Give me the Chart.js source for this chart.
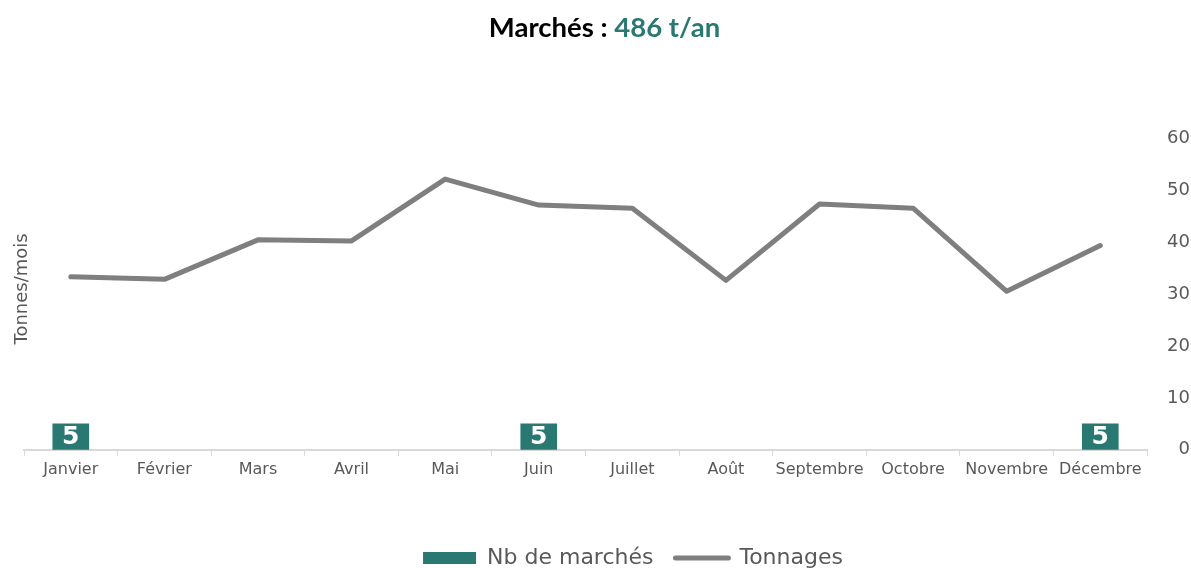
<!DOCTYPE html>
<html>
<head>
<meta charset="utf-8">
<script src="https://cdn.jsdelivr.net/npm/chart.js@4"></script>
<style>
  html, body { margin: 0; padding: 0; background: #fff; }
  #wrap { position: relative; width: 1191px; height: 568px; overflow: hidden; }
  #title { position: absolute; top: 10px; left: 9px; width: 1191px; text-align: center;
           font-family: Lato, "Liberation Sans", sans-serif; font-weight: bold; font-size: 27.5px; color: #000; }
  #title span { color: #2a7872; }
</style>
</head>
<body>
<div id="wrap">
  <div id="title">Marchés : <span>486 t/an</span></div>
  <canvas id="myChart-1" width="1191" height="568"></canvas>
</div>
<script>
const months = ['Janvier', 'Février', 'Mars', 'Avril', 'Mai', 'Juin', 'Juillet', 'Août', 'Septembre', 'Octobre', 'Novembre', 'Décembre'];
const nbMarches = [5, null, null, null, null, 5, null, null, null, null, null, 5];
const tonnages = [33.3, 32.8, 40.4, 40.2, 52.1, 47.1, 46.5, 32.6, 47.3, 46.5, 30.5, 39.3];
const yTicks = [0, 10, 20, 30, 40, 50, 60];

const TEAL = '#2a7872';
const GREY = '#7f7f7f';
const TXT = '#595959';
const FONT = '"DejaVu Sans", Verdana, sans-serif';

// white bold value inside each bar + left axis title
const extras = {
    id: 'extras',
    afterLayout(chart) {
        // legend sits a bit right of centre in the original
        chart.legend.left += 26;
        chart.legend.right += 26;
    },
    afterDatasetsDraw(chart) {
        const ctx = chart.ctx;
        const meta = chart.getDatasetMeta(0);
        ctx.save();
        ctx.fillStyle = '#fff';
        ctx.font = 'bold 25px ' + FONT;
        ctx.textAlign = 'center';
        ctx.textBaseline = 'middle';
        meta.data.forEach((bar, i) => {
            const v = nbMarches[i];
            if (v == null) return;
            ctx.fillText(String(v), bar.x, (bar.y + bar.base) / 2 + 1);
        });
        ctx.restore();

        const area = chart.chartArea;
        ctx.save();
        ctx.fillStyle = TXT;
        ctx.font = '18px ' + FONT;
        ctx.textAlign = 'center';
        ctx.textBaseline = 'middle';
        ctx.translate(area.left - 2, (area.top + area.bottom) / 2 - 5);
        ctx.rotate(-Math.PI / 2);
        ctx.fillText('Tonnes/mois', 0, 0);
        ctx.restore();
    }
};

new Chart(document.getElementById('myChart-1'), {
    type: 'bar',
    data: {
        labels: months,
        datasets: [{
            label: 'Nb de marchés',
            data: nbMarches,
            backgroundColor: TEAL,
            borderWidth: 0,
            barThickness: 36
        }, {
            type: 'line',
            label: 'Tonnages',
            data: tonnages,
            borderColor: GREY,
            backgroundColor: GREY,
            borderWidth: 5,
            borderCapStyle: 'round',
            borderJoinStyle: 'round',
            pointRadius: 0,
            tension: 0
        }]
    },
    options: {
        responsive: false,
        animation: false,
        layout: { padding: { top: 138, left: 24, right: 1, bottom: -11 } },
        plugins: {
            legend: {
                position: 'bottom',
                labels: {
                    usePointStyle: true,
                    pointStyleWidth: 53,
                    boxHeight: 12,
                    padding: 22,
                    color: TXT,
                    font: { family: FONT, size: 22 },
                    generateLabels(chart) {
                        const items = Chart.defaults.plugins.legend.labels.generateLabels(chart);
                        items.sort((a, b) => a.datasetIndex - b.datasetIndex);
                        items[0].pointStyle = 'rect';
                        items[0].fillStyle = TEAL;
                        items[0].lineWidth = 0;
                        items[1].pointStyle = 'line';
                        items[1].strokeStyle = GREY;
                        items[1].lineWidth = 5;
                        items[1].lineCap = 'round';
                        return items;
                    }
                }
            },
            tooltip: { enabled: false }
        },
        scales: {
            x: {
                grid: { offset: true, drawOnChartArea: false, tickLength: 6, color: '#d9d9d9' },
                border: { color: '#d9d9d9', width: 2 },
                ticks: {
                    color: TXT,
                    maxRotation: 0,
                    autoSkip: false,
                    padding: 4,
                    font: { family: FONT, size: 16 }
                },
                afterFit(scale) { scale.height += 42; }
            },
            y: {
                position: 'right',
                min: 0,
                max: 60,
                afterBuildTicks(scale) { scale.ticks = yTicks.map(v => ({ value: v })); },
                grid: { display: false },
                border: { display: false },
                ticks: {
                    color: TXT,
                    padding: 6,
                    crossAlign: 'far',
                    font: { family: FONT, size: 18 }
                }
            }
        }
    },
    plugins: [extras]
});
</script>
</body>
</html>
